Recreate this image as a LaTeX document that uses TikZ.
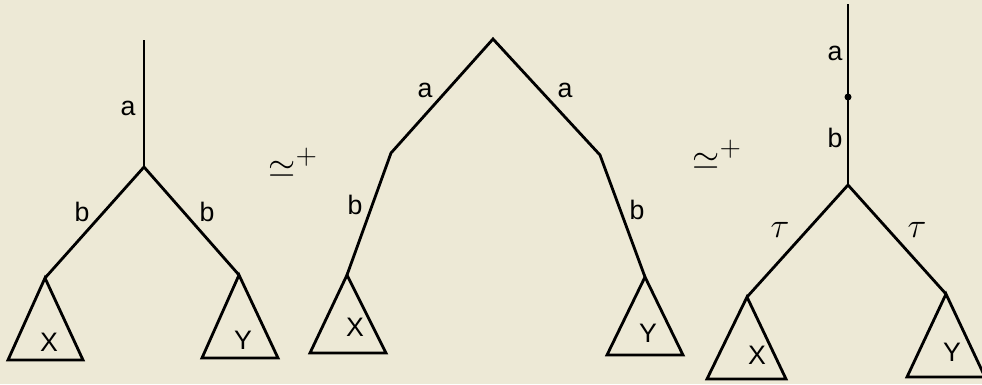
\documentclass[tikz,border=0pt]{standalone}
\usepackage{fontspec}
\setsansfont{Liberation Sans}
\usetikzlibrary{positioning}
\definecolor{paper}{RGB}{237, 233, 214}

\begin{document}
\begin{tikzpicture}[x=0.025cm, y=-0.025cm,
          edge/.style={line width=2pt, line join=miter},
          lbl/.style={font=\sffamily\fontsize{19}{21}\selectfont, inner sep=0pt},
          rel/.style={font=\fontsize{28}{30}\selectfont, inner sep=0pt}]
        \fill[paper] (0,0) rectangle (982,384);
        \useasboundingbox (0,0) rectangle (982,384);
        % left tree
        \coordinate (top1) at (144,40);
        \coordinate (fork1) at (144,167);
        \coordinate (lx1) at (45,278);
        \coordinate (ry1) at (239,275);
        \draw[edge] (top1) -- (fork1);
        \draw[edge] (lx1) -- (fork1) -- (ry1);
        \draw[edge] (lx1) -- (8,360) -- (83,360) -- cycle;
        \draw[edge] (ry1) -- (202,358) -- (278,358) -- cycle;
        \node[lbl] (a1) at (128,108) {a};
        \node[lbl] (b1) at (82,212) {b};
        \node[lbl] (b2) at (207,212) {b};
        \node[lbl] (x1) at (49,342) {X};
        \node[lbl] (y1) at (243,340) {Y};
        \node[rel] (eq1) at (293,163) {$\simeq^{\mathbf{+}}$};
        % middle tree
        \coordinate (top2) at (493,39);
        \coordinate (bendl2) at (391,153);
        \coordinate (lx2) at (347,275);
        \coordinate (bendr2) at (600,155);
        \coordinate (ry2) at (645,277);
        \draw[edge] (lx2) -- (bendl2) -- (top2) -- (bendr2) -- (ry2);
        \draw[edge] (lx2) -- (310,353) -- (386,353) -- cycle;
        \draw[edge] (ry2) -- (607,355) -- (683,355) -- cycle;
        \node[lbl] (a2) at (425,90) {a};
        \node[lbl] (a3) at (565,90) {a};
        \node[lbl] (b3) at (355,205) {b};
        \node[lbl] (b4) at (637,210) {b};
        \node[lbl] (x2) at (355,327) {X};
        \node[lbl] (y2) at (648,333) {Y};
        \node[rel] (eq2) at (717,155) {$\simeq^{\mathbf{+}}$};
        % right tree
        \coordinate (top3) at (848,4);
        \coordinate (fork3) at (848,185);
        \coordinate (lx3) at (747,297);
        \coordinate (ry3) at (946,294);
        \draw[edge] (top3) -- (fork3);
        \fill (848,97) circle (3.5);
        \draw[edge] (lx3) -- (fork3) -- (ry3);
        \draw[edge] (lx3) -- (707,379) -- (786,379) -- cycle;
        \draw[edge] (ry3) -- (907,377) -- (985,377) -- cycle;
        \node[lbl] (a4) at (835,53) {a};
        \node[lbl] (b5) at (835,138) {b};
        \node[lbl, font=\fontsize{24}{26}\selectfont] (t1) at (780,230) {$\tau$};
        \node[lbl, font=\fontsize{24}{26}\selectfont] (t2) at (917,230) {$\tau$};
        \node[lbl] (x3) at (757,355) {X};
        \node[lbl] (y3) at (952,352) {Y};
      \end{tikzpicture}
\end{document}
